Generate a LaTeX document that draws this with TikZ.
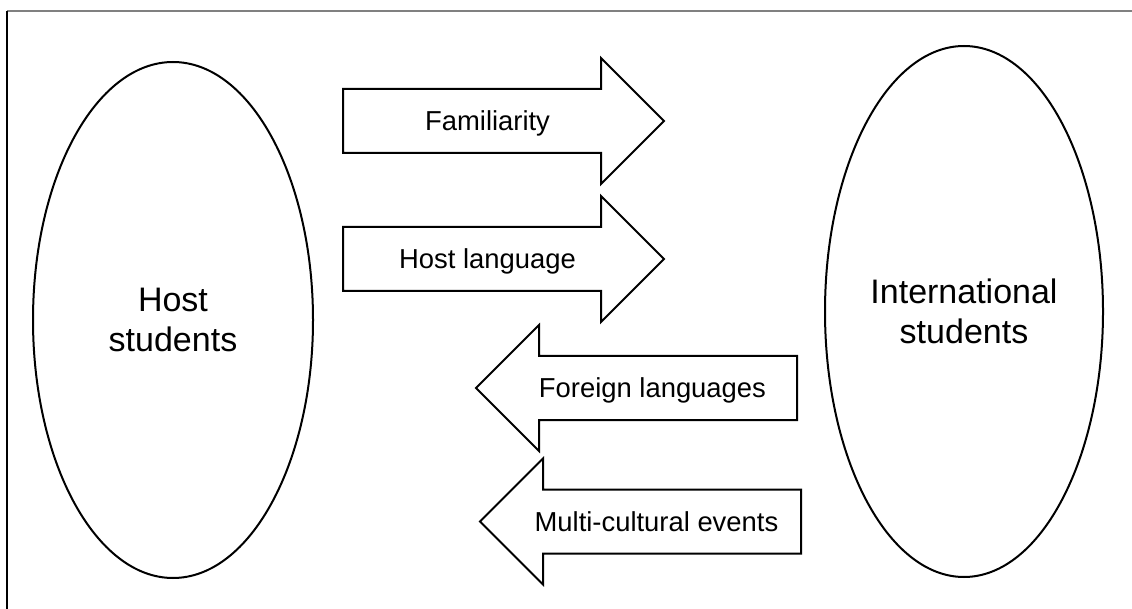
\documentclass[tikz,border=0pt]{standalone}
\usepackage{fontspec}
\setmainfont{Liberation Sans}
\usetikzlibrary{shapes.geometric,shapes.arrows,calc}

\begin{document}
\begin{tikzpicture}[
    x=1pt, y=-1pt,
    group/.style={ellipse, draw=black, line width=2pt, inner sep=0pt, align=center, font=\fontsize{34}{40}\selectfont},
    flow/.style={single arrow, draw=black, fill=white, line width=2pt, minimum height=321pt, minimum width=124pt,
        single arrow head extend=31pt, single arrow head indent=0pt, inner xsep=0pt, inner ysep=31pt},
    back/.style={flow, shape border rotate=180},
    flowtext/.style={inner sep=0pt, text height=19.6pt, text depth=0pt, font=\fontsize{27.4}{33}\selectfont}
]
\useasboundingbox (0,0) rectangle (1132,609);

% frame
\draw[gray, line width=1.4pt] (7,11) -- (1132,11);
\draw[black, line width=1.4pt] (7,11) -- (7,609);

\node[group, minimum width=280pt, minimum height=516pt] (host) at (173,320) {Host\\students};
\node[group, minimum width=278pt, minimum height=531pt] (intl) at (964,311.5) {International\\students};

% block arrows, text sits a bit toward the tail
\node[flow, anchor=tail] (fam) at (342,121) {};
\node[flow, anchor=tail] (lang) at (342,259) {};
\node[back, anchor=tail] (foreign) at (798,388) {};
\node[back, anchor=tail] (events) at (802,521.5) {};

\node[flowtext] (famtext) at ($(fam.tail)!0.45!(fam.tip)$) {Familiarity};
\node[flowtext] (langtext) at ($(lang.tail)!0.45!(lang.tip)$) {Host language};
\node[flowtext] (foreigntext) at ($(foreign.tail)!0.45!(foreign.tip)$) {Foreign languages};
\node[flowtext] (eventstext) at ($(events.tail)!0.45!(events.tip)$) {Multi-cultural events};

\end{tikzpicture}
\end{document}
